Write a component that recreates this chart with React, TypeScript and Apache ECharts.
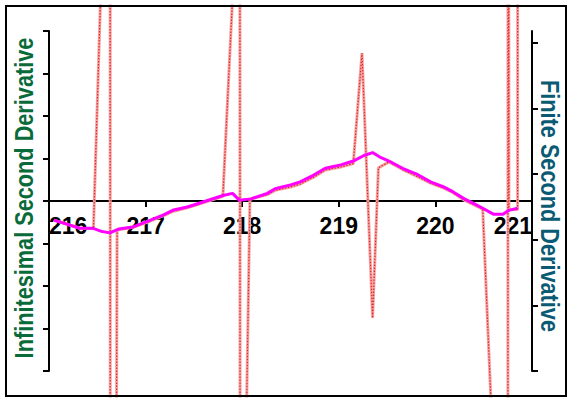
import React, { useEffect, useRef } from 'react';
import * as echarts from 'echarts';

// Infinitesimal second derivative (magenta)
const INF_X = [216.05, 216.32, 216.45, 216.55, 216.63, 216.72, 216.87, 217.05, 217.18, 217.29, 217.43, 217.57, 217.80, 217.90, 217.97, 218.09, 218.26, 218.34, 218.50, 218.60, 218.74, 218.86, 219.02, 219.15, 219.26, 219.35, 219.42, 219.52, 219.66, 219.80, 219.95, 220.08, 220.18, 220.30, 220.39, 220.49, 220.60, 220.70, 220.76, 220.85];
const INF_Y = [-0.45, -0.64, -0.64, -0.72, -0.75, -0.66, -0.61, -0.45, -0.33, -0.21, -0.14, -0.04, 0.13, 0.18, 0.02, 0.05, 0.18, 0.29, 0.38, 0.45, 0.61, 0.77, 0.85, 0.94, 1.07, 1.14, 1.04, 0.94, 0.77, 0.64, 0.45, 0.34, 0.22, 0.05, -0.05, -0.17, -0.31, -0.31, -0.22, -0.17];

// Finite second derivative (red dotted)
const FIN_X = [216.05, 216.32, 216.46, 216.633, 216.636, 216.705, 216.87, 217.05, 217.18, 217.29, 217.43, 217.57, 217.80, 217.976, 217.979, 218.08, 218.26, 218.34, 218.50, 218.60, 218.74, 218.86, 219.02, 219.15, 219.24, 219.35, 219.41, 219.52, 219.66, 219.80, 219.95, 220.08, 220.18, 220.30, 220.39, 220.49, 220.750, 220.753, 220.761, 220.851, 220.854];
const FIN_Y = [-0.45, -0.64, -0.65, 12.05, -50.0, -0.68, -0.62, -0.47, -0.35, -0.24, -0.16, -0.06, 0.11, 8.31, -14.28, 0.04, 0.15, 0.25, 0.33, 0.40, 0.56, 0.73, 0.80, 0.88, 3.48, -2.75, 0.78, 0.92, 0.74, 0.59, 0.42, 0.31, 0.20, 0.02, -0.08, -0.19, -13.98, 28.3, -0.20, -0.20, 28.3];

const X_TICKS = [216, 217, 218, 219, 220, 221];
const LEFT_TICKS = [-4, -3, -2, -1, 0, 1, 2, 3, 4];
const RIGHT_TICKS = [0, 1, 2, 3, 4, 5];

const LEFT_TITLE = 'Infinitesimal Second Derivative';
const RIGHT_TITLE = 'Finite Second Derivative';

export default function App() {
  const ref = useRef<HTMLDivElement>(null);

  useEffect(() => {
    if (!ref.current) return;
    const chart = echarts.init(ref.current, undefined, { renderer: 'svg' });

    // axis grid geometry
    const gL = 49, gT = 31, gW = 483, gH = 340;
    // data (clip) grid geometry = outer frame
    const fL = 6, fT = 6, fW = 560, fH = 390;
    const xMin = X_TICKS[0], xMax = X_TICKS[X_TICKS.length - 1];
    const yMin = LEFT_TICKS[0], yMax = LEFT_TICKS[LEFT_TICKS.length - 1];
    const pxX = gW / (xMax - xMin);
    const pxY = gH / (yMax - yMin);
    const x1Min = xMin - (gL - fL) / pxX;
    const x1Max = xMax + (fL + fW - (gL + gW)) / pxX;
    const y1Max = yMax + (gT - fT) / pxY;
    const y1Min = yMin - (fT + fH - (gT + gH)) / pxY;
    const rightMax = gH / 65.6;
    // offset of the x axis from the grid bottom so that it sits at y = 0
    const zeroOffset = -(0 - yMin) * pxY;

    const fin = FIN_X.map((x, i) => [x, FIN_Y[i]]);
    const inf = INF_X.map((x, i) => [x, INF_Y[i]]);
    const font = '"Liberation Sans", Arial, Helvetica, sans-serif';

    chart.setOption({
      animation: false,
      backgroundColor: '#ffffff',
      grid: [
        { left: gL, top: gT, width: gW, height: gH },
        { left: fL, top: fT, width: fW, height: fH },
      ],
      xAxis: [
        {
          gridIndex: 0,
          type: 'value',
          position: 'bottom',
          offset: zeroOffset,
          min: xMin,
          max: xMax,
          interval: 1,
          axisLine: { onZero: false, lineStyle: { color: '#000', width: 2 } },
          axisTick: { show: true, length: 6, lineStyle: { color: '#000', width: 2 } },
          axisLabel: {
            show: true,
            color: '#000',
            fontSize: 23,
            fontWeight: 'bold',
            fontFamily: font,
            margin: 13,
            alignMinLabel: 'left',
            alignMaxLabel: 'right',
            formatter: (v: number) => String(Math.round(v)),
          },
          splitLine: { show: false },
        },
        { gridIndex: 1, type: 'value', min: x1Min, max: x1Max, show: false },
      ],
      yAxis: [
        {
          gridIndex: 0,
          type: 'value',
          position: 'left',
          min: yMin,
          max: yMax,
          interval: 1,
          axisLine: { show: true, onZero: false, lineStyle: { color: '#000', width: 2 } },
          axisTick: { show: true, length: 6, lineStyle: { color: '#000', width: 2 } },
          axisLabel: { show: false },
          splitLine: { show: false },
        },
        {
          gridIndex: 0,
          type: 'value',
          position: 'right',
          min: 0,
          max: rightMax,
          axisLine: { show: true, onZero: false, lineStyle: { color: '#000', width: 2 } },
          axisTick: { show: true, length: 6, customValues: RIGHT_TICKS, lineStyle: { color: '#000', width: 2 } },
          axisLabel: { show: false },
          splitLine: { show: false },
        },
        { gridIndex: 1, type: 'value', min: y1Min, max: y1Max, show: false },
      ],
      graphic: [
        {
          type: 'rect',
          z: 100,
          shape: { x: fL, y: fT, width: fW, height: fH },
          style: { fill: 'none', stroke: '#000', lineWidth: 2 },
          silent: true,
        },
        {
          type: 'text',
          x: 24,
          y: 198,
          rotation: Math.PI / 2,
          scaleX: 0.835,
          style: {
            text: LEFT_TITLE,
            fontSize: 26,
            fontWeight: 'bold',
            fontFamily: font,
            fill: '#0a6b3a',
            align: 'center',
            verticalAlign: 'middle',
          },
        },
        {
          type: 'text',
          x: 550,
          y: 206,
          rotation: -Math.PI / 2,
          scaleX: 0.835,
          style: {
            text: RIGHT_TITLE,
            fontSize: 26,
            fontWeight: 'bold',
            fontFamily: font,
            fill: '#0b5a74',
            align: 'center',
            verticalAlign: 'middle',
          },
        },
      ],
      series: [
        {
          name: RIGHT_TITLE,
          type: 'line',
          xAxisIndex: 1,
          yAxisIndex: 2,
          data: fin,
          symbol: 'none',
          clip: true,
          z: 2,
          lineStyle: { color: '#f5a3a3', width: 3 },
        },
        {
          name: RIGHT_TITLE + ' ',
          type: 'line',
          xAxisIndex: 1,
          yAxisIndex: 2,
          data: fin,
          symbol: 'none',
          clip: true,
          z: 3,
          lineStyle: { color: '#e02828', width: 1.2, type: [1.5, 1.5] },
        },
        {
          name: LEFT_TITLE,
          type: 'line',
          xAxisIndex: 1,
          yAxisIndex: 2,
          data: inf,
          symbol: 'none',
          clip: true,
          z: 4,
          lineStyle: { color: '#ff00ff', width: 3 },
        },
      ],
    });

    return () => chart.dispose();
  }, []);

  return (
    <div
      ref={ref}
      style={{ position: 'fixed', left: 0, top: 0, width: 572, height: 400, background: '#fff' }}
    />
  );
}
